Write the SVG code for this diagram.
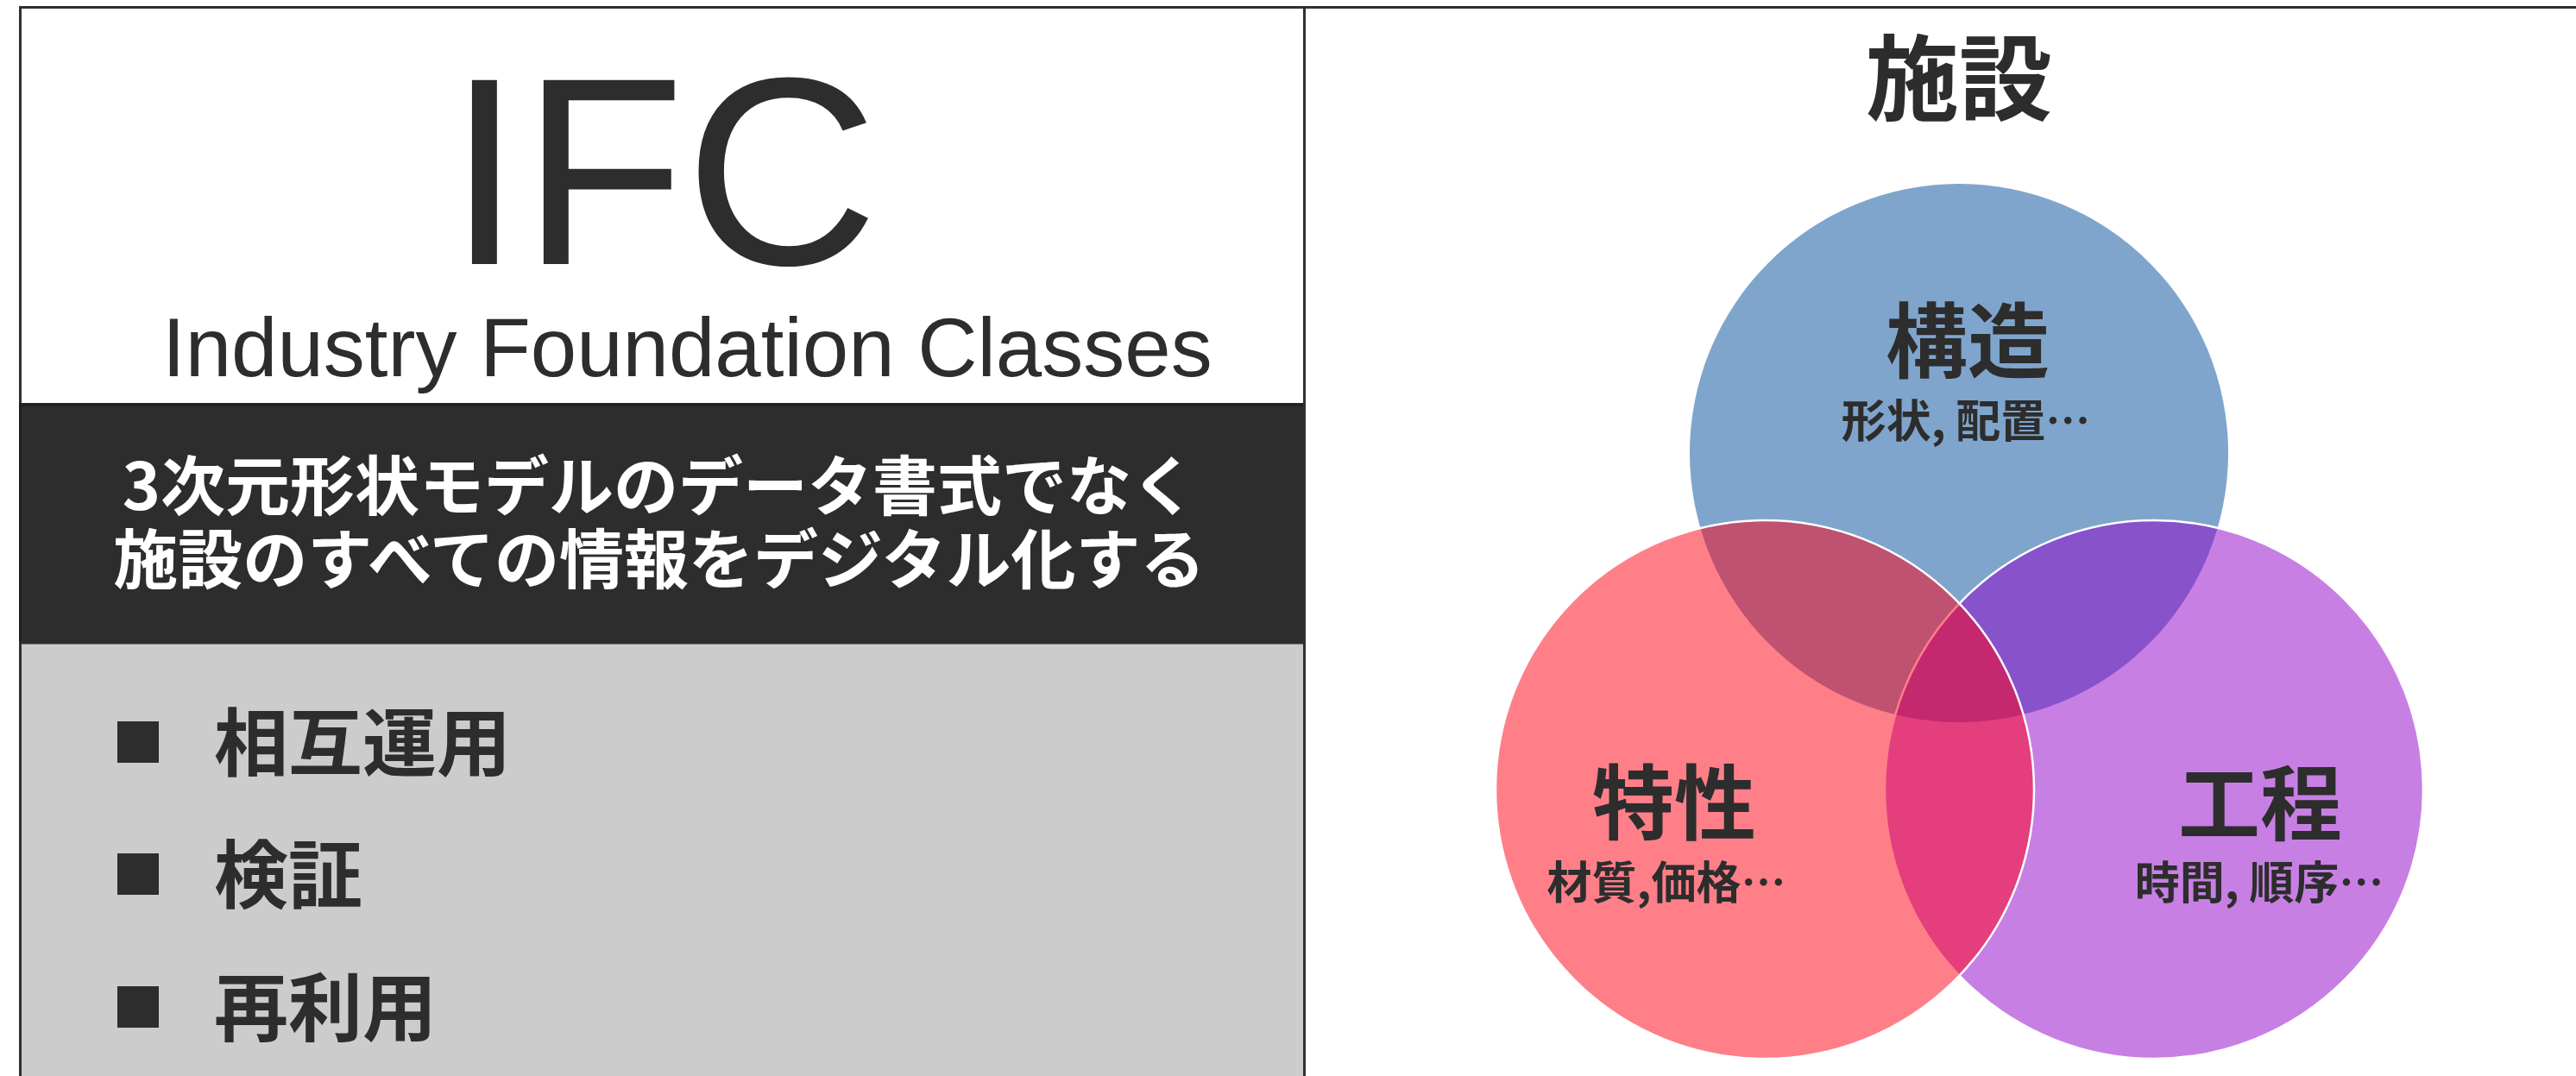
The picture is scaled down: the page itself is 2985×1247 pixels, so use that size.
<svg xmlns="http://www.w3.org/2000/svg" width="2985" height="1247" viewBox="0 0 2985 1247">
  <defs>
    <style>
      .latin { font-family: "Liberation Sans", Arial, sans-serif; fill: #2D2D2D; }
      .jp { font-family: "Noto Sans CJK JP", "Noto Sans CJK SC", sans-serif; font-weight: bold; }
      .dark { fill: #2D2D2D; }
      .white { fill: #FFFFFF; }
      .mid { text-anchor: middle; }
      .frame { stroke: #303030; stroke-width: 3; }
      .venn { stroke: #FFFFFF; stroke-width: 2.5; }
      .title { font-size: 95px; }
      .sub { font-size: 52px; }
      .item { font-size: 86px; }
    </style>
  </defs>
  <rect x="0" y="0" width="2985" height="1247" fill="#FFFFFF"/>

  <g id="left-panel">
    <g id="header">
      <rect x="23.5" y="8.5" width="1488" height="460" fill="#FFFFFF" class="frame"/>
      <text class="latin mid" x="768" y="306" font-size="310">IFC</text>
      <text class="latin" x="188" y="436" font-size="96">Industry Foundation Classes</text>
    </g>
    <g id="summary">
      <rect x="23.5" y="469" width="1488" height="276" fill="#2D2D2D" stroke="#1F1F1F" stroke-width="3"/>
      <text class="jp white mid" x="764" y="591" font-size="75">3次元形状モデルのデータ書式でなく</text>
      <text class="jp white mid" x="764" y="676" font-size="75">施設のすべての情報をデジタル化する</text>
    </g>
    <g id="benefits">
      <rect x="23.5" y="745" width="1488" height="520" fill="#CCCCCC" class="frame"/>
      <text class="jp dark" x="130" y="883" font-size="60">■</text>
      <text class="jp dark item" x="248" y="893">相互運用</text>
      <text class="jp dark" x="130" y="1036" font-size="60">■</text>
      <text class="jp dark item" x="248" y="1046">検証</text>
      <text class="jp dark" x="130" y="1190" font-size="60">■</text>
      <text class="jp dark item" x="248" y="1200">再利用</text>
    </g>
  </g>

  <g id="right-panel">
    <line x1="1511.5" y1="8.5" x2="2985" y2="8.5" class="frame"/>
    <line x1="1511.5" y1="7" x2="1511.5" y2="1247" class="frame"/>
    <text id="facility-title" class="jp dark mid" x="2270" y="131" font-size="108">施設</text>
  </g>

  <g id="connectors"/>

  <g id="node-structure">
    <circle cx="2270" cy="525" r="312" fill="#7FA5CC"/>
  </g>
  <g id="node-process">
    <circle cx="2496" cy="915" r="312" fill="#9100C9" fill-opacity="0.5" class="venn"/>
  </g>
  <g id="node-property">
    <circle cx="2045" cy="915" r="312" fill="#FF0014" fill-opacity="0.5" class="venn"/>
  </g>

  <g id="labels">
    <g id="label-structure">
      <text class="jp dark mid title" x="2280" y="431">構造</text>
      <text class="jp dark mid sub" x="2278" y="507">形状, 配置…</text>
    </g>
    <g id="label-property">
      <text class="jp dark mid title" x="1940" y="966">特性</text>
      <text class="jp dark mid sub" x="1931" y="1042">材質,価格…</text>
    </g>
    <g id="label-process">
      <text class="jp dark mid title" x="2619" y="967">工程</text>
      <text class="jp dark mid sub" x="2618" y="1042">時間, 順序…</text>
    </g>
  </g>
</svg>
